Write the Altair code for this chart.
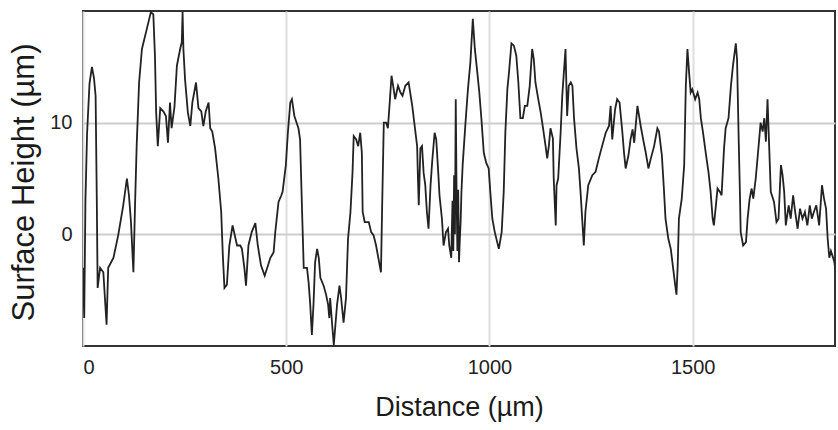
import altair as alt
import pandas as pd

# Profile trace: distance along the scan (µm) and surface height (µm)
distance = [
    0, 3, 6, 10, 16, 22, 27, 31, 34, 36, 42, 50, 58, 62, 75, 87, 99, 108, 113, 118,
    124, 128, 132, 138, 145, 157, 167, 173, 177, 180, 184, 190, 198, 204, 209, 214, 218, 225, 231, 239,
    243, 245, 247, 251, 258, 264, 269, 278, 284, 291, 296, 302, 309, 313, 318, 325, 333, 340, 344, 348,
    354, 360, 368, 379, 387, 391, 397, 401, 407, 415, 424, 430, 438, 447, 461, 469, 473, 481, 488, 491,
    493, 499, 504, 510, 514, 520, 530, 534, 539, 543, 551, 555, 559, 563, 567, 571, 576, 580, 584, 592,
    598, 603, 606, 608, 613, 617, 621, 625, 631, 635, 641, 647, 652, 658, 663, 666, 672, 677, 682, 686,
    688, 693, 703, 709, 715, 721, 727, 733, 736, 740, 746, 750, 754, 759, 763, 768, 775, 781, 786, 793,
    801, 810, 816, 822, 824, 826, 830, 834, 838, 842, 846, 850, 855, 859, 865, 869, 874, 877, 883, 887,
    893, 898, 901, 906, 909, 911, 913, 915, 917, 919, 921, 923, 925, 927, 929, 931, 934, 941, 947, 953,
    959, 964, 970, 975, 980, 986, 992, 998, 1002, 1007, 1013, 1019, 1023, 1030, 1035, 1039, 1044, 1048, 1054, 1060,
    1066, 1071, 1076, 1082, 1087, 1093, 1099, 1105, 1109, 1113, 1120, 1126, 1131, 1138, 1142, 1146, 1150, 1156, 1158, 1163,
    1165, 1169, 1175, 1179, 1183, 1187, 1191, 1195, 1200, 1204, 1208, 1214, 1220, 1224, 1228, 1232, 1236, 1243, 1253, 1261,
    1269, 1277, 1286, 1294, 1298, 1302, 1309, 1314, 1320, 1327, 1331, 1335, 1342, 1347, 1352, 1356, 1364, 1368, 1372, 1378,
    1384, 1391, 1397, 1405, 1413, 1417, 1424, 1429, 1433, 1440, 1446, 1451, 1456, 1460, 1463, 1466, 1473, 1479, 1483, 1487,
    1491, 1495, 1499, 1506, 1512, 1516, 1520, 1525, 1532, 1539, 1544, 1549, 1552, 1557, 1561, 1567, 1571, 1577, 1581, 1588,
    1594, 1599, 1606, 1609, 1613, 1616, 1618, 1624, 1631, 1635, 1640, 1645, 1649, 1655, 1662, 1667, 1672, 1676, 1680, 1684,
    1688, 1692, 1700, 1706, 1711, 1717, 1721, 1725, 1729, 1736, 1741, 1747, 1752, 1758, 1764, 1770, 1776, 1782, 1788, 1793,
    1798, 1804, 1811, 1818, 1823, 1828, 1832, 1836, 1840, 1848, 1852,
]
height = [
    -3.0, -7.5, 3.0, 9.0, 13.5, 15.0, 14.0, 12.4, 2.9, -4.8, -3.0, -3.4, -8.1, -3.0, -2.1, 0.0, 2.6, 5.0, 3.5, 1.1,
    -3.4, 2.6, 7.9, 13.6, 16.6, 18.4, 19.9, 19.7, 16.0, 10.9, 7.9, 11.3, 11.0, 10.6, 8.2, 11.8, 9.5, 11.4, 15.1, 16.6,
    17.2, 19.9, 16.6, 13.9, 10.9, 9.7, 11.8, 13.6, 11.3, 11.0, 9.7, 11.0, 11.8, 9.5, 9.2, 7.7, 5.0, 2.0, -1.9, -4.8,
    -4.5, -1.0, 0.8, -1.0, -1.0, -1.3, -3.0, -4.6, -1.0, 0.2, 1.0, -1.0, -2.8, -3.7, -2.1, -1.6, 0.2, 2.9, 3.5, 3.8,
    4.4, 6.2, 9.1, 11.8, 12.1, 10.6, 9.5, 8.5, 2.0, -3.0, -3.0, -4.3, -6.3, -9.0, -6.3, -2.5, -1.3, -2.1, -3.9, -4.6,
    -5.4, -6.3, -7.5, -5.7, -8.1, -9.9, -8.1, -6.3, -4.6, -5.7, -7.9, -5.7, -0.4, 2.0, 5.5, 8.8, 8.5, 7.9, 9.1, 7.3,
    2.0, 1.1, 1.1, 0.2, -0.1, -1.0, -2.2, -3.4, 2.6, 10.0, 10.0, 9.5, 11.5, 14.2, 13.3, 12.1, 13.3, 12.7, 12.4, 13.3,
    13.6, 11.5, 9.7, 7.9, 5.0, 2.6, 7.7, 7.9, 5.5, 4.4, 2.0, 0.5, 4.4, 6.5, 9.1, 8.5, 5.5, 3.5, 1.4, -1.0,
    0.2, 0.5, -1.0, -2.1, 3.0, -1.5, 5.3, 0.0, 12.1, 3.8, -1.5, 4.0, -2.5, -0.5, 1.1, 3.8, 6.2, 10.0, 13.0, 15.4,
    19.3, 16.6, 14.5, 12.7, 10.4, 7.3, 6.4, 5.9, 3.8, 1.4, 0.2, -0.7, -1.3, 0.2, 3.8, 9.1, 13.0, 14.5, 17.1, 16.9,
    16.0, 13.6, 10.4, 10.4, 11.5, 11.5, 13.3, 16.6, 15.7, 13.6, 12.1, 10.9, 9.7, 7.9, 6.8, 7.9, 9.5, 8.6, 5.0, 0.8,
    4.4, 5.0, 9.1, 12.4, 14.5, 16.6, 10.6, 13.3, 13.6, 13.3, 10.4, 7.7, 5.9, 3.8, 1.4, -1.0, 2.0, 4.4, 5.3, 5.6,
    6.8, 7.9, 9.1, 9.7, 11.5, 8.5, 11.2, 12.1, 11.8, 9.1, 7.3, 5.9, 7.1, 8.5, 9.4, 8.2, 11.5, 10.6, 9.7, 8.5,
    7.4, 5.9, 6.8, 7.9, 9.5, 9.2, 7.1, 4.1, 1.4, -0.4, -1.3, -2.8, -4.3, -5.4, -2.8, 1.4, 3.2, 6.2, 13.3, 16.6,
    14.5, 12.7, 13.0, 12.1, 12.7, 12.1, 10.4, 9.2, 7.3, 5.5, 3.8, 1.4, 0.8, 2.6, 4.1, 3.8, 3.5, 7.7, 9.5, 10.4,
    13.3, 15.1, 17.1, 15.7, 8.6, 3.8, 0.2, -1.0, -0.7, 1.4, 3.2, 4.1, 3.2, 5.0, 7.9, 10.0, 9.2, 10.4, 8.3, 12.1,
    7.9, 3.8, 2.9, 1.1, 1.4, 6.2, 5.3, 3.8, 0.8, 2.6, 1.4, 3.5, 2.0, 0.5, 2.3, 1.4, 2.0, 0.8, 2.6, 1.4,
    2.0, 2.6, 0.8, 4.4, 3.2, 2.3, -0.4, -2.1, -1.5, -2.4, -3.4,
]

x_ticks = [0, 500, 1000, 1500]
y_ticks = [0, 10]

profile = pd.DataFrame({"distance": distance, "height": height})

FONT = "Liberation Sans"

chart = (
    alt.Chart(profile)
    .mark_line(color="#222222", strokeWidth=1.8, clip=True)
    .encode(
        x=alt.X(
            "distance:Q",
            scale=alt.Scale(domain=[0, 1850], nice=False, zero=False),
            axis=alt.Axis(
                title="Distance (µm)",
                values=x_ticks,
                format="d",
                ticks=False,
                domain=False,
                labelPadding=11,
                labelFontSize=20,
                titleFontSize=27,
                titlePadding=17,
                gridColor="#dedede",
                gridWidth=2,
            ),
        ),
        y=alt.Y(
            "height:Q",
            scale=alt.Scale(domain=[-10, 20], nice=False, zero=False),
            axis=alt.Axis(
                title="Surface Height (µm)",
                values=y_ticks,
                format="d",
                ticks=False,
                domain=False,
                labelPadding=11,
                labelFontSize=20,
                titleFontSize=31,
                titlePadding=9,
                titleY=171,
                gridColor="#cdcdcd",
                gridWidth=2,
            ),
        ),
        order="distance:Q",
    )
    .properties(
        width=752,
        height=335,
        autosize=alt.AutoSizeParams(type="none"),
        padding={"left": 83, "top": 11, "right": 3, "bottom": 84},
    )
    .configure_view(stroke="#333333", strokeWidth=2)
    .configure_axis(
        labelFont=FONT,
        titleFont=FONT,
        labelColor="#222222",
        titleColor="#1a1a1a",
        titleFontWeight="normal",
    )
)

chart.save("out.html", embed_options={"renderer": "svg", "actions": False})
